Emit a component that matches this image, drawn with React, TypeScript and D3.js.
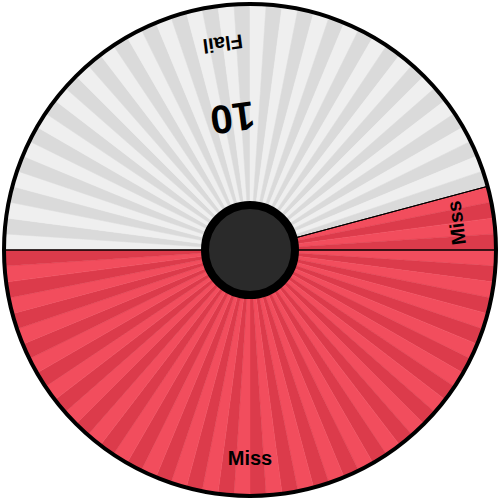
import React from "react";
import * as d3 from "d3";

// wheel segments, in clockwise order starting from the left
const moves = ["Flail", "Miss", "Miss"];
const sizes = [44, 4, 48];
const damage = ["10", "", ""];
const kinds = ["white", "miss", "miss"];

const palette: Record<string, [string, string]> = {
  white: ["#efefef", "#dadada"],
  miss: ["#f24d5d", "#dc3b4b"],
};

const App = () => {
  const width = 500;
  const height = 500;
  const cx = width / 2;
  const cy = height / 2;
  const radius = 246;
  const total = d3.sum(sizes);

  // units -> angle, wheel starts at the left (9 o'clock)
  const angle = d3.scaleLinear().domain([0, total]).range([-Math.PI / 2, (3 * Math.PI) / 2]);

  const segs = d3.pie<number>().sort(null).startAngle(-Math.PI / 2).endAngle((3 * Math.PI) / 2)(sizes);

  // one thin stripe per unit, colour taken from the segment it sits in
  const stripes: { a0: number; a1: number; color: string }[] = [];
  let u = 0;
  sizes.forEach((s, i) => {
    for (let k = 0; k < s; k++) {
      const a0 = angle(u);
      const idx = Math.round((a0 / (2 * Math.PI)) * total);
      const pal = palette[kinds[i]];
      stripes.push({ a0, a1: angle(u + 1), color: ((idx % 2) + 2) % 2 === 0 ? pal[0] : pal[1] });
      u++;
    }
  });

  const arc = d3.arc<any>().innerRadius(0).outerRadius(radius);
  const stripeArc = d3.arc<any>().innerRadius(0).outerRadius(radius).startAngle((d) => d.a0).endAngle((d) => d.a1);

  const labelPos = (a: number, r: number) => {
    const x = r * Math.sin(a);
    const y = -r * Math.cos(a);
    const rot = (a * 180) / Math.PI + 180;
    return `translate(${x},${y}) rotate(${rot})`;
  };

  return (
    <svg width={width} height={height} style={{ position: "absolute", left: 0, top: 0, background: "#fff" }}>
      <g transform={`translate(${cx},${cy})`}>
        {stripes.map((d, i) => (
          <path key={"s" + i} d={stripeArc(d) as string} fill={d.color} stroke={d.color} strokeWidth={0.5} />
        ))}
        {segs.map((d, i) => (
          <path key={"b" + i} d={arc(d) as string} fill="none" stroke="#000" strokeWidth={1} />
        ))}
        {segs.map((d, i) => {
          const mid = (d.startAngle + d.endAngle) / 2;
          return (
            <g key={"l" + i}>
              <text
                transform={labelPos(mid, 208)}
                textAnchor="middle"
                dominantBaseline="central"
                fontFamily="Liberation Sans, Arial, sans-serif"
                fontWeight="bold"
                fontSize={20}
                fill="#000"
              >
                {moves[i]}
              </text>
              {damage[i] && (
                <text
                  transform={labelPos(mid, 133)}
                  textAnchor="middle"
                  dominantBaseline="central"
                  fontFamily="Liberation Sans, Arial, sans-serif"
                  fontWeight="bold"
                  fontSize={40}
                  fill="#000"
                >
                  {damage[i]}
                </text>
              )}
            </g>
          );
        })}
        <circle r={radius} fill="none" stroke="#000" strokeWidth={4} />
        <circle r={45} fill="#2a2a2a" stroke="#000" strokeWidth={8} />
      </g>
    </svg>
  );
};

export default App;
